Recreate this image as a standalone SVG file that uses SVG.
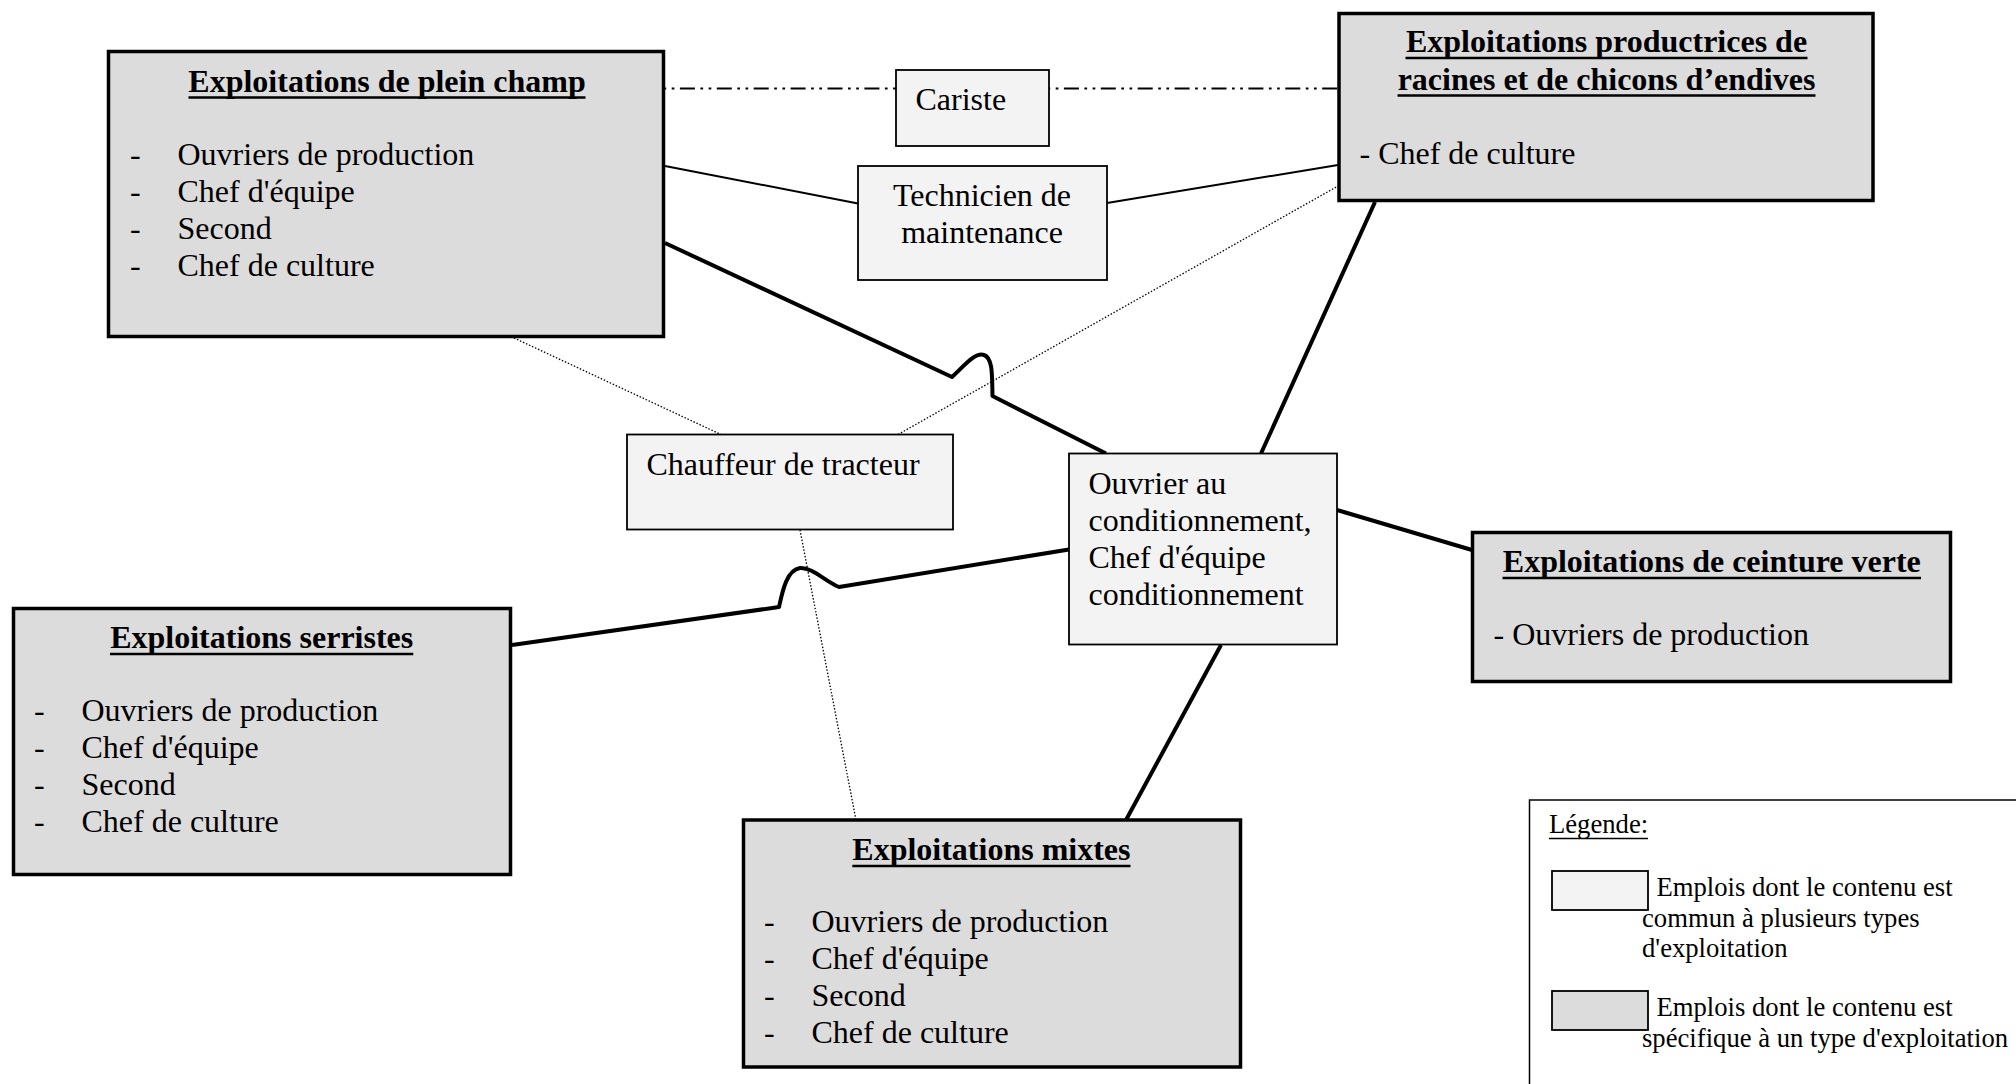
<svg xmlns="http://www.w3.org/2000/svg" width="2016" height="1084" viewBox="0 0 2016 1084">
<style>
  text { font-family: "Liberation Serif", "Times New Roman", serif; fill: #000; }
  .t { font-size: 32px; }
  .b { font-size: 32px; font-weight: bold; }
  .s { font-size: 26.67px; }
  .spec { fill: #dcdcdc; stroke: #000; stroke-width: 3.5; }
  .comm { fill: #f3f3f3; stroke: #000; stroke-width: 1.8; }
  .ul { stroke: #000; stroke-width: 2.5; }
  .ul-s { stroke: #000; stroke-width: 1.4; }
  .thick { fill: none; stroke: #000; stroke-width: 4; stroke-linejoin: round; }
  .thin { fill: none; stroke: #000; stroke-width: 2; }
  .dot { fill: none; stroke: #000; stroke-width: 1.3; stroke-dasharray: 1.5 1.8; }
  .dashdot { fill: none; stroke: #000; stroke-width: 2; stroke-dasharray: 15 5.5 2.7 5.5 2.7 5.5; }
</style>
<rect width="2016" height="1084" fill="#fff"/>

<!-- links between job boxes and farm types -->
<g id="connectors">
  <!-- Cariste: dash-dot -->
  <line class="dashdot" x1="665" y1="88.5" x2="896" y2="88.5" stroke-dashoffset="22"/>
  <line class="dashdot" x1="1049" y1="88.5" x2="1338" y2="88.5" stroke-dashoffset="22"/>
  <!-- Technicien de maintenance: thin solid -->
  <line class="thin" x1="665" y1="166" x2="858" y2="203.5"/>
  <line class="thin" x1="1107" y1="203" x2="1338" y2="165"/>
  <!-- Chauffeur de tracteur: dotted -->
  <line class="dot" x1="514" y1="338" x2="721" y2="434.5"/>
  <line class="dot" x1="898" y1="434.5" x2="1338" y2="186"/>
  <line class="dot" x1="800" y1="530" x2="856" y2="820"/>
  <!-- Ouvrier au conditionnement: thick solid, with jumps over dotted lines -->
  <path class="thick" d="M665,243 L952,377 C964,366 975,352 984,355 C993,358 992,376 992.5,396 L1106,453.5"/>
  <path class="thick" d="M512,645 L779,607 C782,594 786,570 800,568 C812,567 826,582 839,587 L1069,549.5"/>
  <line class="thick" x1="1375" y1="202" x2="1261" y2="453.5"/>
  <line class="thick" x1="1337" y1="510" x2="1472" y2="550"/>
  <line class="thick" x1="1221" y1="645" x2="1126" y2="820"/>
</g>

<g id="plein-champ">
  <rect class="spec" x="108.5" y="51.5" width="555" height="285"/>
  <text class="b" x="387" y="91.5" text-anchor="middle">Exploitations de plein champ</text>
  <line class="ul" x1="188.5" y1="97.5" x2="585.5" y2="97.5"/>
  <text class="t" x="130" y="165">-</text><text class="t" x="177.5" y="165">Ouvriers de production</text>
  <text class="t" x="130" y="202">-</text><text class="t" x="177.5" y="202">Chef d'équipe</text>
  <text class="t" x="130" y="239">-</text><text class="t" x="177.5" y="239">Second</text>
  <text class="t" x="130" y="276">-</text><text class="t" x="177.5" y="276">Chef de culture</text>
</g>

<g id="racines-endives">
  <rect class="spec" x="1339" y="13.5" width="534" height="187"/>
  <text class="b" x="1606.5" y="52" text-anchor="middle">Exploitations productrices de</text>
  <line class="ul" x1="1405.5" y1="58" x2="1807.5" y2="58"/>
  <text class="b" x="1606.5" y="89.5" text-anchor="middle">racines et de chicons d’endives</text>
  <line class="ul" x1="1397.5" y1="95.5" x2="1815.5" y2="95.5"/>
  <text class="t" x="1359.5" y="164">- Chef de culture</text>
</g>

<g id="ceinture-verte">
  <rect class="spec" x="1472.5" y="532.5" width="478" height="149"/>
  <text class="b" x="1711.8" y="572" text-anchor="middle">Exploitations de ceinture verte</text>
  <line class="ul" x1="1502.5" y1="578" x2="1921" y2="578"/>
  <text class="t" x="1493.5" y="645">- Ouvriers de production</text>
</g>

<g id="serristes">
  <rect class="spec" x="13.5" y="608.5" width="497" height="266"/>
  <text class="b" x="261.7" y="648" text-anchor="middle">Exploitations serristes</text>
  <line class="ul" x1="110" y1="654" x2="413.3" y2="654"/>
  <text class="t" x="34" y="721">-</text><text class="t" x="81.5" y="721">Ouvriers de production</text>
  <text class="t" x="34" y="758">-</text><text class="t" x="81.5" y="758">Chef d'équipe</text>
  <text class="t" x="34" y="795">-</text><text class="t" x="81.5" y="795">Second</text>
  <text class="t" x="34" y="832">-</text><text class="t" x="81.5" y="832">Chef de culture</text>
</g>

<g id="mixtes">
  <rect class="spec" x="743.5" y="820" width="497" height="247"/>
  <text class="b" x="991.4" y="860" text-anchor="middle">Exploitations mixtes</text>
  <line class="ul" x1="852.3" y1="866" x2="1130.5" y2="866"/>
  <text class="t" x="764" y="932">-</text><text class="t" x="811.5" y="932">Ouvriers de production</text>
  <text class="t" x="764" y="969">-</text><text class="t" x="811.5" y="969">Chef d'équipe</text>
  <text class="t" x="764" y="1006">-</text><text class="t" x="811.5" y="1006">Second</text>
  <text class="t" x="764" y="1043">-</text><text class="t" x="811.5" y="1043">Chef de culture</text>
</g>

<g id="cariste">
  <rect class="comm" x="896" y="70" width="153" height="76"/>
  <text class="t" x="915.5" y="110">Cariste</text>
</g>

<g id="technicien-maintenance">
  <rect class="comm" x="858" y="166" width="249" height="114"/>
  <text class="t" x="982" y="206" text-anchor="middle">Technicien de</text>
  <text class="t" x="982" y="243" text-anchor="middle">maintenance</text>
</g>

<g id="chauffeur-tracteur">
  <rect class="comm" x="627" y="434.5" width="326" height="95"/>
  <text class="t" x="646.5" y="475">Chauffeur de tracteur</text>
</g>

<g id="ouvrier-conditionnement">
  <rect class="comm" x="1069" y="453.5" width="268" height="191"/>
  <text class="t" x="1088.5" y="494">Ouvrier au</text>
  <text class="t" x="1088.5" y="531">conditionnement,</text>
  <text class="t" x="1088.5" y="568">Chef d'équipe</text>
  <text class="t" x="1088.5" y="605">conditionnement</text>
</g>

<g id="legende">
  <rect x="1529.5" y="800" width="520" height="320" fill="#fff" stroke="#000" stroke-width="1.5"/>
  <text class="s" x="1549" y="833">Légende:</text>
  <line class="ul-s" x1="1549" y1="838.5" x2="1648" y2="838.5"/>
  <rect class="comm" x="1552" y="871" width="96" height="39"/>
  <text class="s" x="1656.5" y="896">Emplois dont le contenu est</text>
  <text class="s" x="1642" y="926.5">commun à plusieurs types</text>
  <text class="s" x="1642" y="957">d'exploitation</text>
  <rect x="1552" y="991" width="96" height="39" fill="#dcdcdc" stroke="#000" stroke-width="1.8"/>
  <text class="s" x="1656.5" y="1016">Emplois dont le contenu est</text>
  <text class="s" x="1642" y="1047">spécifique à un type d'exploitation</text>
</g>
</svg>
